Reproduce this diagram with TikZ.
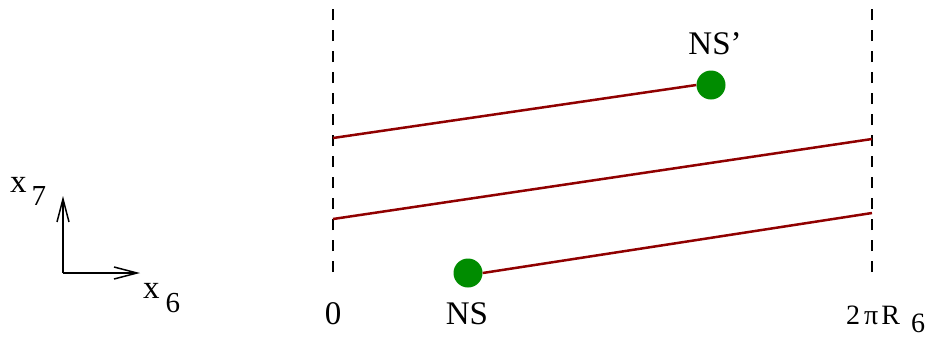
\documentclass[tikz,border=0pt]{standalone}
\usepackage{fontspec}
\setmainfont{Liberation Serif}
\usepackage{xcolor}
\usetikzlibrary{arrows.meta,positioning}
\definecolor{brDark}{HTML}{900000}
\definecolor{brGreen}{HTML}{008C00}
\newcommand{\lowsub}[3]{\hspace{#1}\raisebox{-#2}{#3}}
\tikzset{
  wall/.style={draw=black,line width=1.5pt,dash pattern=on 11pt off 10pt},
  brane/.style={draw=brDark,line width=2.5pt},
  dot/.style={circle,fill=brGreen,draw=none,minimum size=29pt,inner sep=0pt},
  big/.style={font=\fontsize{33}{36}\selectfont,inner sep=0pt},
  sml/.style={font=\fontsize{28}{30}\selectfont,inner sep=0pt},
  axl/.style={font=\fontsize{33}{36}\selectfont,inner sep=0pt},
  ax/.style={-{Straight Barb[length=23pt,width=12pt,line width=1.5pt]},line width=1.5pt},
}

\begin{document}
\begin{tikzpicture}[x=1pt,y=-1pt]
  \useasboundingbox (0,0) rectangle (933,338);
  % walls of the interval
  \coordinate (lb) at (333,272);
  \coordinate (lt) at (333,0);
  \coordinate (rb) at (872,272);
  \coordinate (rt) at (872,0);
  \draw[wall] (lb) -- (lt);
  \draw[wall] (rb) -- (rt);
  % branes
  \node[dot] (ns) at (468,273) {};
  \node[dot] (nsp) at (711,85) {};
  \coordinate (a1) at (333,138);
  \coordinate (a2) at (333,219);
  \coordinate (b2) at (872,139);
  \coordinate (b3) at (872,213);
  \draw[brane] (a1) -- (nsp.west);
  \draw[brane] (a2) -- (b2);
  \draw[brane] (ns.east) -- (b3);
  % labels
  \node[big,anchor=base] (nsl) at (467,324) {NS};
  \node[big,anchor=base] (nspl) at (715,54) {NS’};
  \node[big,anchor=base] (zero) at (333,324) {0};
  \node[sml,anchor=base west] (len) at (846,324) {2\hspace{4pt}π\hspace{3pt}R\lowsub{11pt}{8pt}{6}};
  % axes
  \coordinate (o) at (63,273);
  \coordinate (ox) at (140,273);
  \coordinate (oy) at (63,196);
  \draw[ax] (o) -- (ox);
  \draw[ax] (o) -- (oy);
  \node[axl,anchor=base west] (x7) at (10,192) {x\lowsub{5pt}{13pt}{\fontsize{29}{32}\selectfont 7}};
  \node[axl,anchor=base west] (x6) at (143,298) {x\lowsub{6pt}{14pt}{\fontsize{29}{32}\selectfont 6}};
\end{tikzpicture}
\end{document}
